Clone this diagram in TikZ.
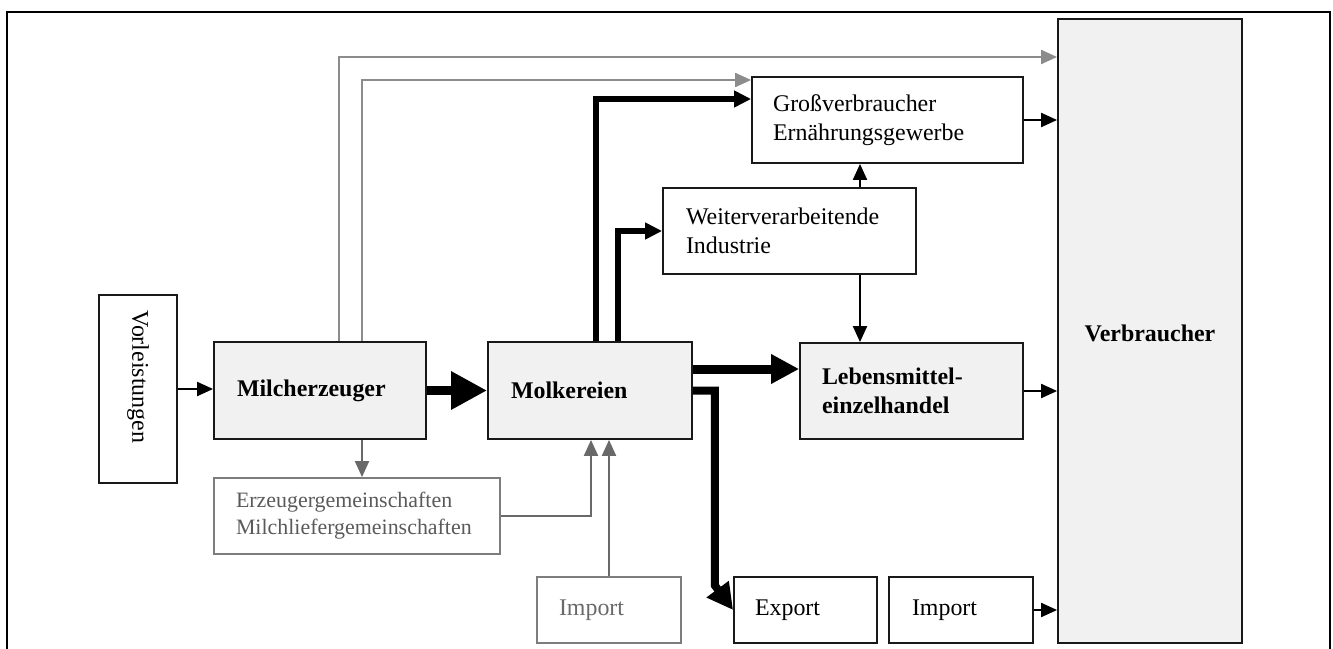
\documentclass[tikz,border=0pt]{standalone}
\usepackage{fontspec}
\setmainfont{Liberation Serif}
\usetikzlibrary{arrows.meta}
\definecolor{boxfill}{RGB}{241,241,241}
\definecolor{gline}{RGB}{140,140,140}
\definecolor{gline2}{RGB}{105,105,105}
\definecolor{gtext}{RGB}{90,90,90}
\definecolor{gborder}{RGB}{125,125,125}
\begin{document}
\begin{tikzpicture}[x=1bp,y=-1bp,
  txt/.style={font=\fontsize{24}{29}\selectfont},
  btxt/.style={font=\fontsize{24}{29}\selectfont\bfseries},
  box/.style={draw=black!90, line width=1.8bp, inner ysep=0pt, align=left, txt},
  gbox/.style={draw=gborder, line width=1.8bp, inner ysep=0pt, align=left, text=gtext, font=\fontsize{22}{27}\selectfont},
  tip/.style={-{Triangle[length=16bp,width=14bp]}},
  thinarrow/.style={line width=2bp, tip},
  grarrow/.style={line width=2bp, draw=gline, -{Triangle[length=16bp,width=14bp,fill=gline]}},
  grarrowb/.style={line width=2bp, draw=gline2, -{Triangle[length=16bp,width=14bp,fill=gline2]}},
  flowA/.style={line width=9bp, -{Triangle[length=36bp,width=36bp]}},
  flowB/.style={line width=9bp, -{Triangle[length=28bp,width=28bp]}},
  flowC/.style={line width=6bp, -{Triangle[length=17bp,width=16bp]}},
  flowD/.style={line width=8bp, line join=miter, -{Triangle[length=26bp,width=26bp]}},
]
\useasboundingbox (0,0) rectangle (1333,649);
% outer frame
\draw[line width=2bp] (7,700) -- (7,12) -- (1330,12) -- (1330,700);

% helper coordinates
\coordinate (h57) at (0,57);
\coordinate (h80) at (0,80);
\coordinate (h99) at (0,99);
\coordinate (h369) at (0,369);
\coordinate (x339) at (339,0);
\coordinate (x362) at (362,0);
\coordinate (x591) at (591,0);
\coordinate (x596) at (596,0);
\coordinate (x618) at (618,0);
\coordinate (x860) at (860,0);

% nodes
\node[box, minimum width=78bp, minimum height=188bp, inner xsep=0pt] (vorl) at (138,389) {};
\node[txt, rotate=-90, inner sep=0pt] (vorltxt) at (138,377) {Vorleistungen};

\node[box, fill=boxfill, minimum height=97bp, text width=166bp, inner xsep=23bp, btxt] (milch) at (320,390.5) {Milcherzeuger};
\node[box, fill=boxfill, minimum height=97bp, text width=158bp, inner xsep=23bp, btxt] (molk) at (590,390.5) {Molkereien};
\node[gbox, minimum height=76bp, text width=242bp, inner xsep=22bp] (erz) at (357,516) {Erzeugergemeinschaften\\Milchliefergemeinschaften};
\node[gbox, minimum height=66bp, text width=100bp, inner xsep=22bp, font=\fontsize{24}{29}\selectfont, text=gline2] (impg) at (609,610) {Import};
\node[box, minimum height=66bp, text width=101bp, inner xsep=21bp] (exp) at (805.5,610) {Export};
\node[box, minimum height=66bp, text width=98bp, inner xsep=23bp] (imp) at (961,610) {Import};
\node[box, fill=boxfill, minimum width=184bp, minimum height=624bp, inner xsep=0pt] (verb) at (1150,331) {};
\node[btxt, inner sep=0pt] (verbtxt) at (1150,333) {Verbraucher};
\node[box, fill=boxfill, minimum height=96bp, text width=179bp, inner xsep=22bp, btxt] (lebm) at (911.5,391) {Lebensmittel-\\einzelhandel};
\node[box, minimum height=86bp, text width=229bp, inner xsep=21bp] (gross) at (887.5,120) {Großverbraucher\\Ernährungsgewerbe};
\node[box, minimum height=86bp, text width=207bp, inner xsep=23bp] (weiter) at (789.5,231) {Weiterverarbeitende\\Industrie};

% gray connectors from Milcherzeuger
\draw[grarrow] (milch.north -| x339) |- (verb.west |- h57);
\draw[grarrow] (milch.north -| x362) |- (gross.west |- h80);
\draw[grarrowb] (milch.south -| x362) -- (erz.north -| x362);
\draw[grarrowb] (erz.east) -| (molk.south -| x591);
\draw[grarrowb] (impg.north) -- (impg.north |- molk.south);

% black connectors
\draw[thinarrow] (vorl.east) -- (vorl.east -| milch.west);
\draw[flowA] (milch.east) -- (milch.east -| molk.west);
\draw[flowB] (molk.east |- h369) -- (lebm.west |- h369);
\draw[flowD] (molk.east) -- ++(22,0) -- ++(0,195) -- (exp.west);
\draw[flowC] (molk.north -| x596) |- (gross.west |- h99);
\draw[flowC] (molk.north -| x618) |- (weiter.west);
\draw[thinarrow] (weiter.north -| x860) -- (gross.south -| x860);
\draw[thinarrow] (weiter.south -| x860) -- (lebm.north -| x860);
\draw[thinarrow] (gross.east) -- (gross.east -| verb.west);
\draw[thinarrow] (lebm.east) -- (lebm.east -| verb.west);
\draw[thinarrow] (imp.east) -- (imp.east -| verb.west);
\end{tikzpicture}
\end{document}
